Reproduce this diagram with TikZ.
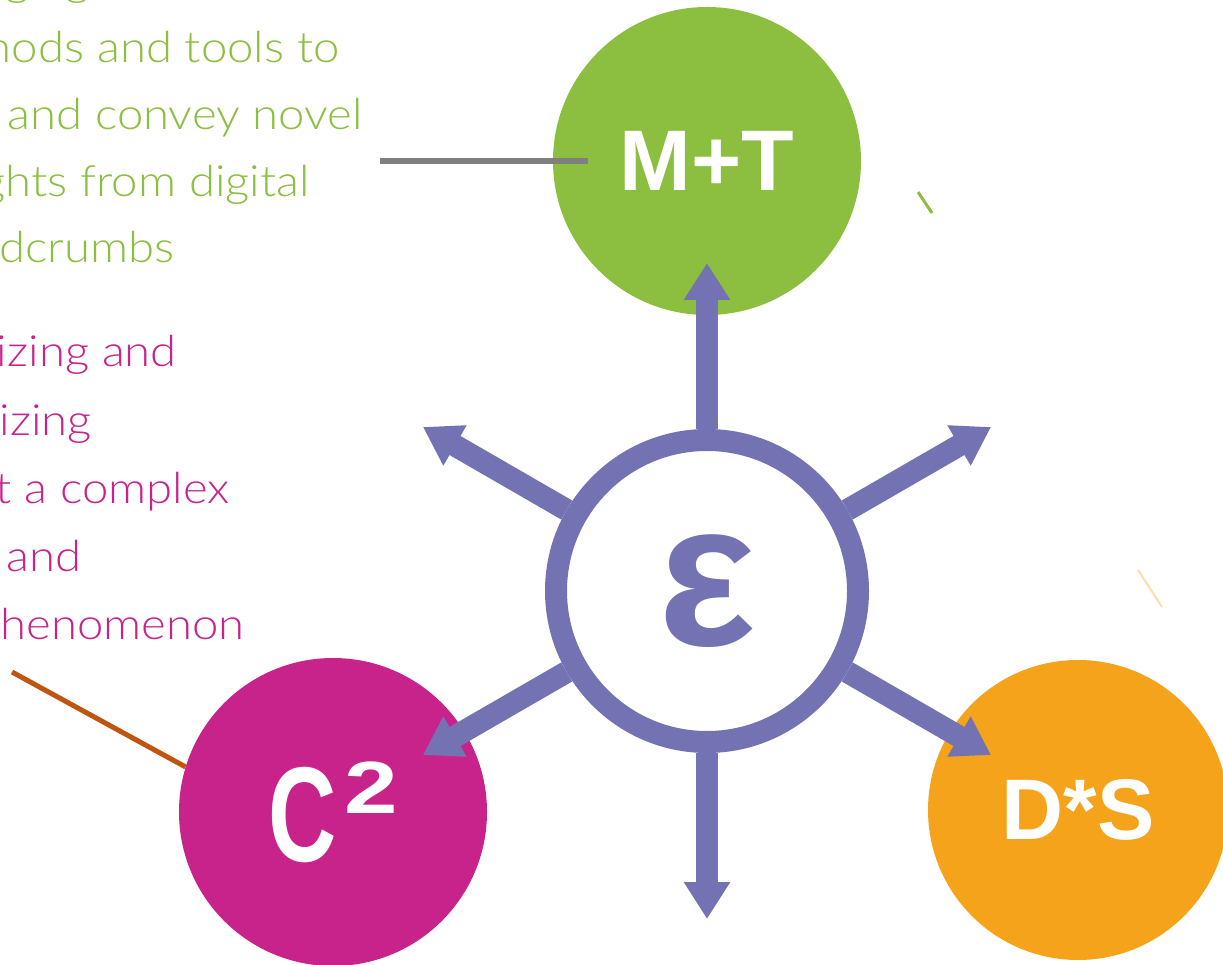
\documentclass[tikz,border=0pt]{standalone}
\usepackage{fontspec}
\setmainfont{Liberation Sans}
\newfontfamily\lightfont{Lato Light}[FakeStretch=1.1]
\usetikzlibrary{arrows.meta,calc}
\definecolor{mtgreen}{HTML}{8CBE3F}
\definecolor{ccmagenta}{HTML}{C8238A}
\definecolor{dsorange}{HTML}{F5A31A}
\definecolor{epspurple}{HTML}{7373B4}
\definecolor{pingrey}{HTML}{7F7F7F}
\definecolor{pinbrown}{HTML}{C0550F}
\tikzset{
  topic/.style={circle, inner sep=0pt, minimum size=308pt, text=white,
    font=\bfseries\fontsize{86}{86}\selectfont},
  spoke/.style={line width=22pt, color=epspurple, -{Triangle[width=44pt,length=37pt]}},
  blurb/.style={anchor=base east, inner sep=0pt, font=\lightfont\fontsize{43}{43}\selectfont},
}

\begin{document}
\begin{tikzpicture}[x=1pt,y=1pt]
			%%%%% START %%%%%
			\useasboundingbox (0,0) rectangle (1223,964);
			
			\node[topic, fill=mtgreen] (MT) at (707,803) {M+T};
			\node[topic, fill=ccmagenta] (C2) at (333,152)
				{\scalebox{0.7}[1]{\fontsize{135}{135}\selectfont C}\hspace{8pt}\raisebox{48pt}{\scalebox{1.3}[1]{\fontsize{74}{74}\selectfont 2}}};
			\node[topic, fill=dsorange, minimum size=300pt] (DS) at (1078,154) {D*S};
			
			\node[circle, draw=epspurple, line width=22pt, minimum size=302pt, inner sep=0pt,
				text=epspurple, font=\bfseries\fontsize{206}{206}\selectfont] (eps) at (707,373) {ε};
			
			\foreach \ang/\tip in {90/tipN, 30/tipNE, 150/tipNW, 210/tipSW, 270/tipS, 330/tipSE}
				\coordinate (\tip) at ($(eps)+(\ang:328)$);
			\foreach \tip in {tipN, tipNE, tipNW, tipSW, tipS, tipSE}
				\draw[spoke] (eps) -- (\tip);
			
			\coordinate (mtpin) at (380,803);
			\draw[line width=6pt, pingrey] (mtpin) -- ([xshift=35pt]MT.west);
			\coordinate (c2pin) at (12,292);
			\draw[line width=5pt, pinbrown] (c2pin) -- (C2.163);
			
			\draw[line width=3pt, mtgreen] (918,772) -- (932,751);
			\draw[line width=2pt, dsorange!35] (1138,394) -- (1162,357);
			
			\foreach \n/\y/\xr/\txt in {0/968/90/Leveraging emerging, 1/901/340/methods and tools to,
				2/834/363/extract and convey novel, 3/767/310/insights from digital, 4/701/175/breadcrumbs}
				\node[blurb, text=mtgreen] (green\n) at (\xr,\y) {\txt};
			\foreach \n/\y/\xr/\txt in {1/597/177/Conceptualizing and, 2/528/92/contextualizing,
				3/460/230/about a complex, 4/392/82/social and, 5/324/245/cultural phenomenon}
				\node[blurb, text=ccmagenta] (pink\n) at (\xr,\y) {\txt};
			
			%%%%% END %%%%%
\end{tikzpicture}
\end{document}
